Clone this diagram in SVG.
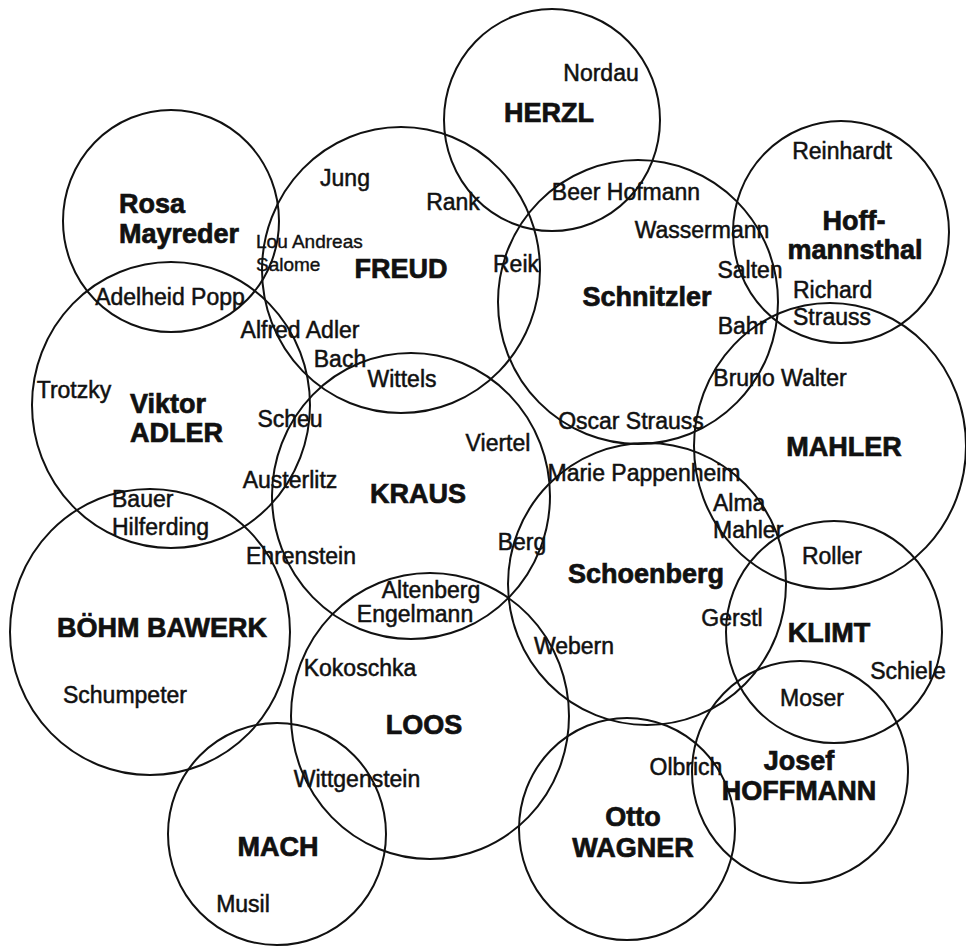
<svg xmlns="http://www.w3.org/2000/svg" width="966" height="946" viewBox="0 0 966 946">
<style>
.c{fill:none;stroke:#111;stroke-width:2}
text{font-family:"Liberation Sans",Arial,Helvetica,sans-serif;fill:#111;text-anchor:middle;stroke:#111;stroke-width:0.5}
.r{font-size:23px}
.s{font-size:19px;text-anchor:start;stroke-width:0.4}
.b{font-size:27px;font-weight:bold;stroke-width:0.7}
.st{text-anchor:start}
</style>
<rect width="966" height="946" fill="#fff"/>
<g id="herzl"><ellipse class="c" cx="552" cy="120" rx="108" ry="111"/>
<text class="r" x="601" y="81">Nordau</text>
<text class="b" x="549" y="122">HERZL</text>
<text class="r" x="626" y="200">Beer Hofmann</text></g>
<g id="rosa-mayreder"><ellipse class="c" cx="171" cy="221" rx="108" ry="111"/>
<text class="b st" x="119" y="213">Rosa</text>
<text class="b st" x="119" y="243">Mayreder</text>
<text class="r" x="170" y="305">Adelheid Popp</text></g>
<g id="freud"><ellipse class="c" cx="401" cy="270" rx="139" ry="143"/>
<text class="r" x="345" y="186">Jung</text>
<text class="r" x="453" y="210">Rank</text>
<text class="s" x="256" y="248">Lou Andreas</text>
<text class="s" x="256" y="271">Salome</text>
<text class="b" x="401" y="278">FREUD</text>
<text class="r" x="516" y="272">Reik</text>
<text class="r" x="300" y="338">Alfred Adler</text>
<text class="r" x="340" y="367">Bach</text>
<text class="r" x="402" y="387">Wittels</text></g>
<g id="schnitzler"><ellipse class="c" cx="638" cy="302" rx="140" ry="142"/>
<text class="r" x="702" y="238">Wassermann</text>
<text class="r" x="750" y="278">Salten</text>
<text class="b" x="647" y="306">Schnitzler</text>
<text class="r" x="742" y="334">Bahr</text>
<text class="r" x="631" y="429">Oscar Strauss</text></g>
<g id="hoffmannsthal"><ellipse class="c" cx="841" cy="232" rx="108" ry="111"/>
<text class="r" x="842" y="159">Reinhardt</text>
<text class="b" x="854" y="230">Hoff-</text>
<text class="b" x="855" y="259">mannsthal</text>
<text class="r st" x="793" y="298">Richard</text>
<text class="r st" x="793" y="325">Strauss</text></g>
<g id="viktor-adler"><ellipse class="c" cx="171" cy="405" rx="139" ry="143"/>
<text class="r" x="74" y="398">Trotzky</text>
<text class="b st" x="130" y="413">Viktor</text>
<text class="b st" x="130" y="442">ADLER</text>
<text class="r" x="290" y="427">Scheu</text>
<text class="r st" x="112" y="507">Bauer</text>
<text class="r st" x="112" y="535">Hilferding</text></g>
<g id="mahler"><ellipse class="c" cx="830" cy="446" rx="136" ry="143"/>
<text class="r" x="780" y="386">Bruno Walter</text>
<text class="b" x="844" y="456">MAHLER</text>
<text class="r st" x="713" y="511">Alma</text>
<text class="r st" x="713" y="538">Mahler</text>
<text class="r" x="832" y="564">Roller</text></g>
<g id="kraus"><ellipse class="c" cx="411" cy="496" rx="139" ry="143"/>
<text class="r" x="498" y="451">Viertel</text>
<text class="r" x="290" y="488">Austerlitz</text>
<text class="b" x="418" y="503">KRAUS</text>
<text class="r" x="301" y="564">Ehrenstein</text>
<text class="r" x="522" y="550">Berg</text>
<text class="r" x="431" y="598">Altenberg</text>
<text class="r" x="415" y="622">Engelmann</text></g>
<g id="schoenberg"><ellipse class="c" cx="647" cy="584" rx="139" ry="141"/>
<text class="r" x="644" y="481">Marie Pappenheim</text>
<text class="b" x="646" y="583">Schoenberg</text>
<text class="r" x="732" y="626">Gerstl</text>
<text class="r" x="574" y="654">Webern</text></g>
<g id="boehm-bawerk"><ellipse class="c" cx="150" cy="632" rx="140" ry="143"/>
<text class="b" x="162" y="637">BÖHM BAWERK</text>
<text class="r" x="125" y="703">Schumpeter</text></g>
<g id="klimt"><ellipse class="c" cx="834" cy="632" rx="108" ry="111"/>
<text class="b" x="829" y="642">KLIMT</text>
<text class="r" x="908" y="679">Schiele</text>
<text class="r" x="812" y="706">Moser</text></g>
<g id="loos"><ellipse class="c" cx="430" cy="716" rx="139" ry="143"/>
<text class="r" x="360" y="676">Kokoschka</text>
<text class="b" x="424" y="734">LOOS</text>
<text class="r" x="357" y="787">Wittgenstein</text></g>
<g id="josef-hoffmann"><ellipse class="c" cx="800" cy="772" rx="108" ry="111"/>
<text class="b" x="799" y="770">Josef</text>
<text class="b" x="799" y="800">HOFFMANN</text></g>
<g id="otto-wagner"><ellipse class="c" cx="627" cy="829" rx="108" ry="111"/>
<text class="r" x="686" y="775">Olbrich</text>
<text class="b" x="633" y="826">Otto</text>
<text class="b" x="633" y="857">WAGNER</text></g>
<g id="mach"><ellipse class="c" cx="277" cy="834" rx="109" ry="111"/>
<text class="b" x="278" y="856">MACH</text>
<text class="r" x="243" y="912">Musil</text></g>
</svg>
